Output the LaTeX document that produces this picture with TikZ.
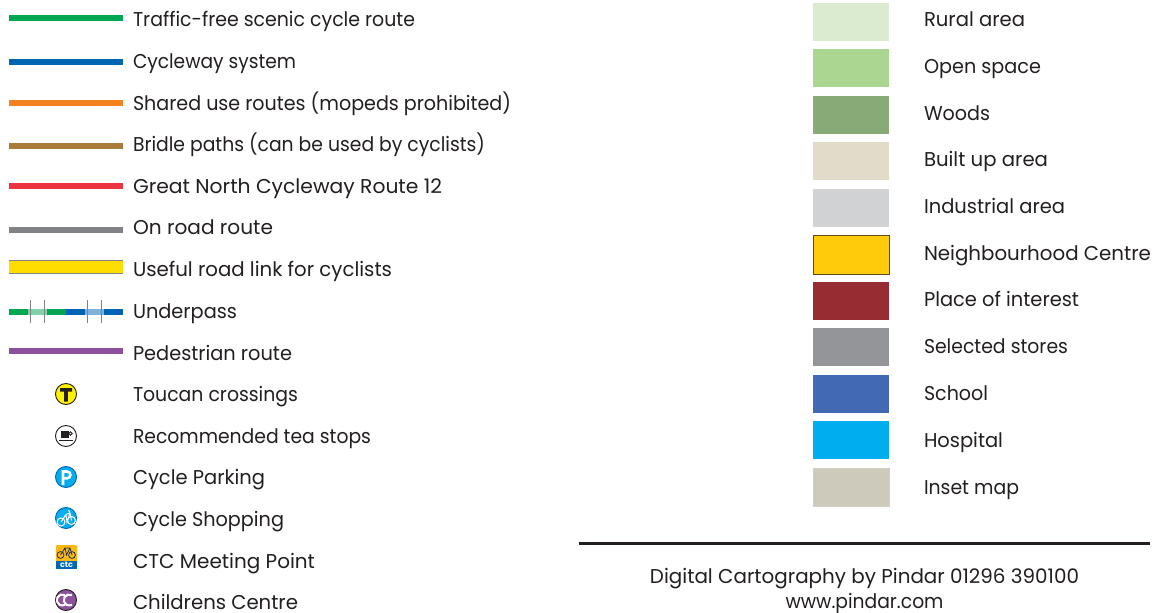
\documentclass[tikz,border=0pt]{standalone}
\usepackage{graphicx}
\usepackage{fontspec}
\setmainfont{Poppins}
\newcommand{\fw}[2]{\resizebox{#1bp}{\height}{#2}}
\definecolor{cgreen}{HTML}{00A651}
\definecolor{cblue}{HTML}{0066B3}
\definecolor{corange}{HTML}{F58220}
\definecolor{cbrown}{HTML}{A97C3A}
\definecolor{cred}{HTML}{ED3340}
\definecolor{cgrey}{HTML}{808285}
\definecolor{cyellow}{HTML}{FFDD00}
\definecolor{cyellowb}{HTML}{FFF200}
\definecolor{cpurple}{HTML}{8C509E}
\definecolor{ctxt}{HTML}{231F20}
\definecolor{cbluei}{HTML}{00AEEF}
\definecolor{ctxtorange}{HTML}{FDB813}
\definecolor{sw1}{HTML}{DBEBCF}
\definecolor{sw2}{HTML}{ABD691}
\definecolor{sw3}{HTML}{88AA77}
\definecolor{sw4}{HTML}{E3DBCA}
\definecolor{sw5}{HTML}{D0D2D3}
\definecolor{sw6}{HTML}{FFCB0A}
\definecolor{sw6d}{HTML}{5F4B1E}
\definecolor{sw7}{HTML}{972D33}
\definecolor{sw8}{HTML}{939598}
\definecolor{sw9}{HTML}{4169B4}
\definecolor{sw11}{HTML}{CDC9BB}
\tikzset{x=1bp,y=-1bp,
 lab/.style={anchor=base west,inner sep=0pt,outer sep=0pt,text=ctxt,font=\fontsize{20bp}{22bp}\selectfont},
 route/.style={line width=5.5bp},
 sw/.style={minimum width=76bp,minimum height=38bp,inner sep=0pt,anchor=north west},
 ring/.style={circle,draw=ctxt,line width=0.9bp,minimum size=21bp,inner sep=0pt}}
\begin{document}
\begin{tikzpicture}
\useasboundingbox[fill=white] (0,0) rectangle (1153,613);
% routes
\foreach \y/\c in {18/cgreen,62/cblue,103/corange,146/cbrown,186/cred,230/cgrey,351/cpurple}
  \draw[route,\c] (9,\y) -- (123,\y);
\fill[cyellow] (9,261) rectangle (123,274);
\draw[cgrey,line width=1bp] (9,260.5) -- (123,260.5) (9,274) -- (123,274);
\fill[cgreen] (9,309) rectangle (28,315);
\fill[cgreen!50] (28,309) rectangle (47,315);
\fill[cgreen] (47,309) rectangle (66,315);
\fill[cblue] (66,309) rectangle (85,315);
\fill[cblue!50] (85,309) rectangle (104,315);
\fill[cblue] (104,309) rectangle (123,315);
\foreach \x in {30.5,44.5,87.5,101.5} \draw[cgrey,line width=0.8bp] (\x,300) -- (\x,323);
% labels left
\node[lab] (l1) at (133,27) {\fw{282}{Traffic-free scenic cycle route}};
\node[lab] (l2) at (133,68.5) {\fw{163}{Cycleway system}};
\node[lab] (l3) at (133,110.5) {\fw{378}{Shared use routes (mopeds prohibited)}};
\node[lab] (l4) at (133,151.5) {\fw{352}{Bridle paths (can be used by cyclists)}};
\node[lab] (l5) at (133,193.5) {\fw{309}{Great North Cycleway Route 12}};
\node[lab] (l6) at (133,235) {\fw{140}{On road route}};
\node[lab] (l7) at (133,276.5) {\fw{259}{Useful road link for cyclists}};
\node[lab] (l8) at (133,318.5) {\fw{104}{Underpass}};
\node[lab] (l9) at (133,360) {\fw{159}{Pedestrian route}};
\node[lab] (l10) at (133,401.5) {\fw{165}{Toucan crossings}};
\node[lab] (l11) at (133,443) {\fw{238}{Recommended tea stops}};
\node[lab] (l12) at (133,484.5) {\fw{132}{Cycle Parking}};
\node[lab] (l13) at (133,526) {\fw{151}{Cycle Shopping}};
\node[lab] (l14) at (133,568) {\fw{182}{CTC Meeting Point}};
\node[lab] (l15) at (133,609) {\fw{165}{Childrens Centre}};
% icons
\node[ring,fill=cyellowb] (iT) at (66,394) {};
\fill[ctxt] (60,388) rectangle (72,391.5) (64.2,388) rectangle (67.8,401.5);
\node[ring,fill=white] (iTea) at (66,436) {};
\fill[ctxt] (61,431) rectangle (69,438);
\draw[ctxt,line width=0.9bp] (70.5,433.5) circle (1.7bp);
\fill[ctxt] (59,439.5) rectangle (73,441);
\node[ring,fill=cbluei,draw=cblue] (iP) at (66,477) {};
\draw[white,line width=2.6bp] (63,485) -- (63,471.5) -- (67,471.5) arc (90:-90:3.4bp) -- (63,478.3);
\node[ring,fill=cbluei,draw=cblue] (iC) at (66,518) {};
\draw[white,line width=1bp] (61,522) circle (4bp) (71.5,520.5) circle (4bp);
\draw[white,line width=1bp] (61,522) -- (66,514.5) -- (70,513) -- (71.5,520.5) (66,514.5) -- (67,522) -- (70,513) (68.5,510) -- (70,513);
\fill[ctxtorange,rounded corners=1bp] (56,545) rectangle (77,563);
\fill[cblue] (56,561) rectangle (77,568.5);
\draw[ctxt!70!cblue,line width=0.8bp] (60.5,555) circle (3.4bp) (72,555) circle (3.4bp);
\draw[ctxt!70!cblue,line width=0.8bp] (60.5,555) -- (65,548) -- (70,548) -- (72,555) (65,548) -- (66.5,555) -- (70,548);
\node[inner sep=0pt,text=white,font=\bfseries\fontsize{8bp}{8bp}\selectfont] (ctc) at (66.5,564.5) {ctc};
\node[ring,fill=cpurple] (iCC) at (66,600) {};
\draw[white,line width=2bp] (65,595.2) arc (60:300:5.5bp);
\draw[white,line width=2bp] (72,595.2) arc (60:300:5.5bp);
% swatches
\node[sw,fill=sw1] (s1) at (813,3) {};
\node[sw,fill=sw2] (s2) at (813,49) {};
\node[sw,fill=sw3] (s3) at (813,96) {};
\node[sw,fill=sw4] (s4) at (813,142) {};
\node[sw,fill=sw5] (s5) at (813,189) {};
\node[sw,fill=sw6,draw=sw6d,line width=1bp,minimum width=75.5bp] (s6) at (813,235.5) {};
\node[sw,fill=sw7] (s7) at (813,282) {};
\node[sw,fill=sw8] (s8) at (813,328) {};
\node[sw,fill=sw9] (s9) at (813,375) {};
\node[sw,fill=cbluei] (s10) at (813,421) {};
\node[sw,fill=sw11,draw=sw11!80!sw1,line width=1bp,minimum width=75.5bp] (s11) at (813,468) {};
\node[lab] (r1) at (924,27) {\fw{101}{Rural area}};
\node[lab] (r2) at (924,74) {\fw{117}{Open space}};
\node[lab] (r3) at (924,120.5) {\fw{66}{Woods}};
\node[lab] (r4) at (924,167) {\fw{124}{Built up area}};
\node[lab] (r5) at (924,213.5) {\fw{141}{Industrial area}};
\node[lab] (r6) at (924,260.5) {\fw{227}{Neighbourhood Centre}};
\node[lab] (r7) at (924,307) {\fw{155}{Place of interest}};
\node[lab] (r8) at (924,353.5) {\fw{144}{Selected stores}};
\node[lab] (r9) at (924,400) {\fw{64}{School}};
\node[lab] (r10) at (924,447) {\fw{79}{Hospital}};
\node[lab] (r11) at (924,494) {\fw{95}{Inset map}};
\coordinate (ruleA) at (579,543.5);
\coordinate (ruleB) at (1150,543.5);
\draw[ctxt,line width=2.2bp] (ruleA) -- (ruleB);
\node[lab,anchor=base] (c1) at (864.5,583.5) {\fw{429}{Digital Cartography by Pindar 01296 390100}};
\node[lab,anchor=base] (c2) at (864.5,608.5) {\fw{158}{www.pindar.com}};
\end{tikzpicture}
\end{document}
